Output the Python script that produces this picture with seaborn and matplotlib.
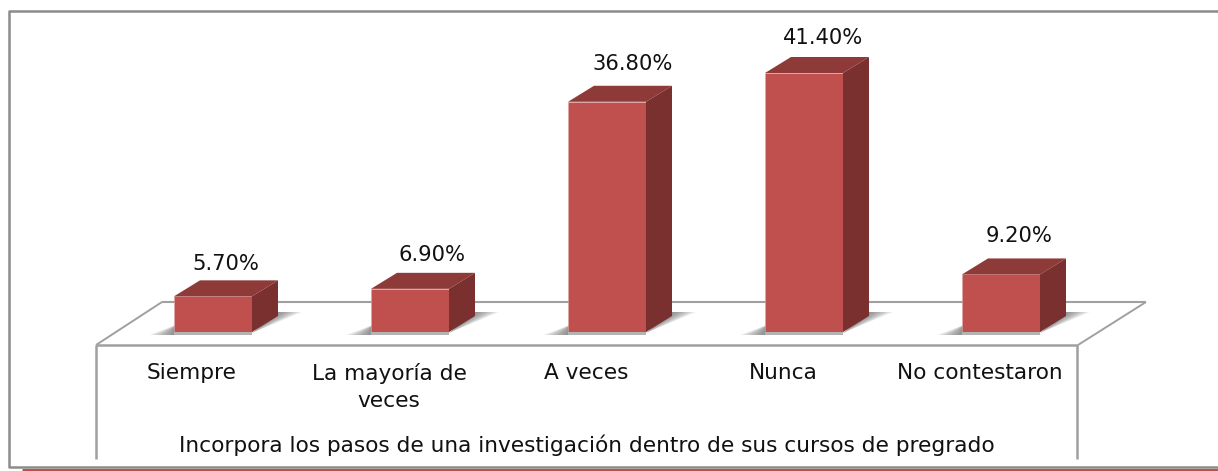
import numpy as np
import pandas as pd
import seaborn as sns
import matplotlib
matplotlib.use("Agg")
import matplotlib.pyplot as plt
from matplotlib.lines import Line2D
from matplotlib.patches import Polygon

categories = ["Siempre", "La mayoría de\nveces", "A veces", "Nunca", "No contestaron"]
values = [5.7, 6.9, 36.8, 41.4, 9.2]
axis_title = "Incorpora los pasos de una investigación dentro de sus cursos de pregrado"

# layout (pixels of the 1218x471 canvas)
W, H = 1218, 471
BASE_Y, X0, STEP, BAR_W = 332, 213, 197, 78
PX_PER_UNIT = 259 / 41.4
DX, DY = 26 / STEP, 16 / PX_PER_UNIT
LABEL_OFF = [(13, 32), (22, 34), (26, 38), (19, 35), (18, 38)]
FRONT, TOP, SIDE = "#C0504D", "#8E3A38", "#7A302E"
GRID = "#A0A0A0"

sns.set_theme(style="white")
plt.rcParams["font.family"] = ["DejaVu Sans"]
fig = plt.figure(figsize=(W / 100, H / 100), dpi=100, facecolor="white")
ax = fig.add_axes([0, (H - BASE_Y) / H, 1, BASE_Y / H])
ax.patch.set_visible(False)

df = pd.DataFrame({"cat": categories, "val": values})
sns.barplot(data=df, x="cat", y="val", color=FRONT, saturation=1,
            width=BAR_W / STEP, ax=ax, zorder=5, edgecolor="#DDA8A6", linewidth=0.4)
ax.set_xlim(-X0 / STEP, (W - X0) / STEP)
ax.set_ylim(0, BASE_Y / PX_PER_UNIT)
sns.despine(ax=ax, left=True, bottom=True, top=True, right=True)
ax.set_ylabel("")
ax.set_yticks([])

pos = np.arange(len(categories))
ax.set_xticks(pos - 21 / STEP)
ax.set_xticklabels(categories, fontsize=15.6, color="#111111", linespacing=1.45)
ax.tick_params(axis="x", length=0, pad=22.5)
ax.set_xlabel(axis_title, fontsize=15.6, color="#111111")
ax.xaxis.set_label_coords(586.5 / W, -(445 - BASE_Y) / BASE_Y)
ax.xaxis.label.set_verticalalignment("center")


# chart frame and floor, behind the bars
def fline(xs, ys, color=GRID, lw=1.6):
    fig.add_artist(Line2D([x / W for x in xs], [1 - y / H for y in ys],
                          color=color, lw=lw, zorder=-1, solid_capstyle="butt"))


fline([1218, 9, 9, 1218], [10.5, 10.5, 467, 467], color="#8C8C8C", lw=1.8)
fline([22, 1218], [470, 470], color="#C0504D", lw=2.2)
fline([96, 1078], [345, 345], lw=1.8)
fline([162, 1146], [302, 302], lw=1.5)
fline([96, 162], [345, 302], lw=1.4)
fline([1078, 1146], [345, 302], lw=1.4)
fline([96, 96], [345, 459], lw=1.8)
fline([1077, 1077], [345, 459], lw=1.8)

# 3-D faces and soft shadows built from the bars themselves
px_x, px_y = 1 / STEP, 1 / PX_PER_UNIT
for i, (bar, v) in enumerate(zip(ax.patches, values)):
    l, r, t = bar.get_x(), bar.get_x() + bar.get_width(), bar.get_height()
    ax.add_patch(Polygon([(l, t), (r, t), (r + DX, t + DY), (l + DX, t + DY)],
                         fc=TOP, ec="none", zorder=6, clip_on=False))
    ax.add_patch(Polygon([(r, 0), (r + DX, DY), (r + DX, t + DY), (r, t)],
                         fc=SIDE, ec="none", zorder=6, clip_on=False))
    # shadow: layered translucent wedges, darkest against the bar
    n = 10
    for k in range(n):
        f = (k + 1) / n
        ax.add_patch(Polygon([(r, -1 * px_y), (r + DX, 20 * px_y),
                              (r + DX + 24 * f * px_x, 20 * px_y)],
                             fc="#555555", alpha=0.09, ec="none", zorder=2, clip_on=False))
        ax.add_patch(Polygon([(l + 2 * px_x, -3 * px_y), (l + 2 * px_x, 7 * px_y),
                              (l - 25 * f * px_x, -3 * px_y)],
                             fc="#555555", alpha=0.09, ec="none", zorder=2, clip_on=False))
    ax.add_patch(Polygon([(l, -3 * px_y), (l, 0), (r, 0), (r, -3 * px_y)],
                         fc="#B4B4B4", ec="none", zorder=2, clip_on=False))
    ox, oy = LABEL_OFF[i]
    ax.annotate(f"{v:.2f}%", xy=(bar.get_x() + bar.get_width() / 2, t),
                xytext=(ox * 0.72, oy * 0.72), textcoords="offset points",
                ha="center", va="center", fontsize=15.2, color="#111111", zorder=8)

fig.savefig("out.png", dpi=100, facecolor="white")
